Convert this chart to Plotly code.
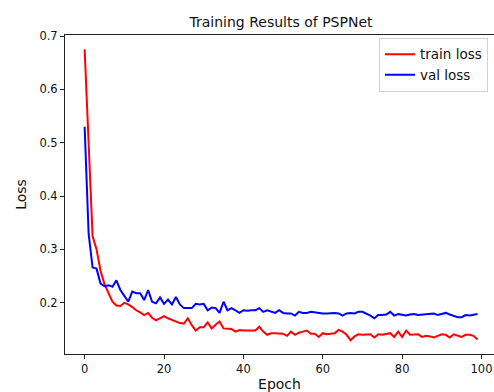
import plotly.graph_objects as go

epochs = list(range(100))

train_loss = [
    0.675, 0.49, 0.325, 0.30, 0.26, 0.235, 0.218, 0.202, 0.195, 0.194,
    0.200, 0.197, 0.192, 0.186, 0.182, 0.177, 0.181, 0.172, 0.167, 0.171,
    0.175, 0.171, 0.168, 0.166, 0.162, 0.161, 0.171, 0.158, 0.148, 0.154,
    0.154, 0.163, 0.152, 0.159, 0.165, 0.152, 0.152, 0.151, 0.146, 0.149,
    0.148, 0.148, 0.148, 0.148, 0.155, 0.146, 0.140, 0.143, 0.143, 0.143,
    0.142, 0.138, 0.146, 0.140, 0.144, 0.146, 0.148, 0.142, 0.142, 0.136,
    0.143, 0.141, 0.142, 0.143, 0.149, 0.146, 0.140, 0.130, 0.137, 0.141,
    0.140, 0.141, 0.141, 0.135, 0.141, 0.140, 0.141, 0.143, 0.136, 0.146,
    0.136, 0.148, 0.140, 0.141, 0.141, 0.136, 0.138, 0.137, 0.135, 0.138,
    0.141, 0.140, 0.135, 0.141, 0.138, 0.136, 0.140, 0.140, 0.138, 0.131,
]

val_loss = [
    0.530, 0.33, 0.266, 0.264, 0.236, 0.231, 0.233, 0.230, 0.242, 0.224,
    0.213, 0.202, 0.221, 0.218, 0.218, 0.205, 0.224, 0.202, 0.199, 0.210,
    0.198, 0.206, 0.197, 0.211, 0.197, 0.190, 0.190, 0.190, 0.198, 0.197,
    0.198, 0.186, 0.191, 0.190, 0.181, 0.202, 0.186, 0.190, 0.186, 0.181,
    0.186, 0.185, 0.186, 0.186, 0.190, 0.183, 0.186, 0.184, 0.181, 0.186,
    0.181, 0.180, 0.180, 0.176, 0.183, 0.181, 0.181, 0.183, 0.182, 0.180,
    0.180, 0.180, 0.181, 0.181, 0.180, 0.176, 0.180, 0.181, 0.180, 0.183,
    0.183, 0.180, 0.176, 0.171, 0.177, 0.177, 0.178, 0.183, 0.176, 0.179,
    0.178, 0.176, 0.178, 0.179, 0.177, 0.178, 0.178, 0.179, 0.180, 0.177,
    0.179, 0.181, 0.178, 0.175, 0.173, 0.173, 0.177, 0.176, 0.178, 0.179,
]

x_ticks = [0, 20, 40, 60, 80, 100]
y_ticks = [0.2, 0.3, 0.4, 0.5, 0.6, 0.7]

FONT = "DejaVu Sans"

fig = go.Figure()
fig.add_trace(go.Scatter(x=epochs, y=train_loss, mode="lines", name="train loss",
                         line=dict(color="#ff0000", width=2)))
fig.add_trace(go.Scatter(x=epochs, y=val_loss, mode="lines", name="val loss",
                         line=dict(color="#0000ff", width=2)))

fig.update_layout(
    width=494, height=392, autosize=False,
    margin=dict(l=65, r=0, t=35, b=38, pad=0),
    paper_bgcolor="white", plot_bgcolor="white",
    font=dict(family=FONT, size=11.5, color="#111"),
    title=dict(text="Training Results of PSPNet", x=(65 + 497) / 2 / 494, xanchor="center",
               y=1 - 22 / 392, yanchor="middle", yref="container",
               font=dict(family=FONT, size=14, color="#111")),
    showlegend=True,
    legend=dict(x=0.986, xanchor="right", y=0.991, yanchor="top",
                bgcolor="white", bordercolor="#d0d0d0", borderwidth=1,
                font=dict(family=FONT, size=13.5, color="#111"),
                tracegroupgap=0),
    xaxis=dict(range=[-4.95, 103.15], tickvals=x_ticks, ticktext=[str(v) for v in x_ticks],
               showgrid=False, zeroline=False, showline=True, linecolor="#222", linewidth=1,
               mirror=True, ticks="outside", ticklen=4, tickwidth=1, tickcolor="#222",
               title=dict(text="Epoch", standoff=5, font=dict(family=FONT, size=14)),
               automargin=False),
    yaxis=dict(range=[0.104, 0.702], tickvals=y_ticks, ticktext=[f"{v:.1f}" for v in y_ticks],
               showgrid=False, zeroline=False, showline=True, linecolor="#222", linewidth=1,
               mirror=False, ticks="outside", ticklen=4, tickwidth=1, tickcolor="#222",
               title=dict(text="Loss", standoff=9, font=dict(family=FONT, size=14)),
               automargin=False),
)

fig.write_html("out.html", config={"displayModeBar": False},
               post_script="document.body.style.margin='0';")
